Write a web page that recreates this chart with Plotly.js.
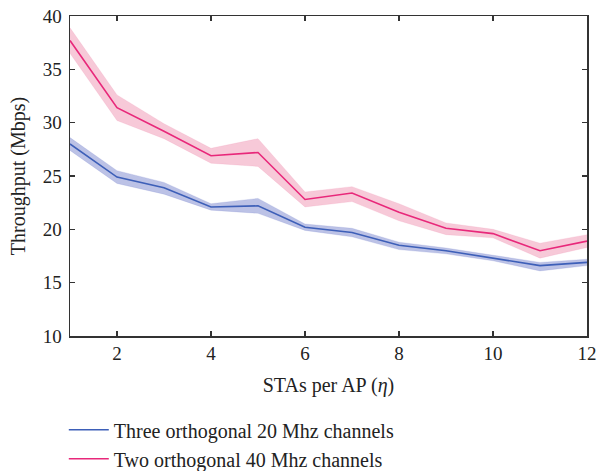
<!DOCTYPE html>
<html>
<head>
<meta charset="utf-8">
<script src="https://cdn.plot.ly/plotly-3.0.1.min.js"></script>
<style>html,body{margin:0;padding:0;background:#fff;}#chart{width:597px;height:471px;}</style>
</head>
<body>
<div id="chart"></div>
<script>
const stas = [1, 2, 3, 4, 5, 6, 7, 8, 9, 10, 11, 12];
const xTicks = [2, 4, 6, 8, 10, 12];
const yTicks = [10, 15, 20, 25, 30, 35, 40];

const blueName = "Three orthogonal 20 Mhz channels";
const blueMean  = [28.0, 24.9, 23.9, 22.1, 22.2, 20.2, 19.7, 18.5, 18.0, 17.3, 16.6, 16.9];
const blueUpper = [28.6, 25.5, 24.4, 22.4, 22.9, 20.5, 20.1, 18.8, 18.25, 17.55, 16.9, 17.2];
const blueLower = [27.4, 24.3, 23.3, 21.8, 21.5, 19.9, 19.3, 18.1, 17.7, 17.05, 16.1, 16.6];

const pinkName = "Two orthogonal 40 Mhz channels";
const pinkMean  = [37.7, 31.4, 29.2, 26.9, 27.2, 22.8, 23.4, 21.6, 20.1, 19.6, 18.0, 18.9];
const pinkUpper = [38.9, 32.6, 29.9, 27.6, 28.5, 23.5, 24.0, 22.4, 20.6, 20.0, 18.7, 19.5];
const pinkLower = [36.5, 30.2, 28.5, 26.2, 25.9, 22.1, 22.6, 20.8, 19.5, 19.2, 17.3, 18.3];

const blueLine = '#3d5fb8';
const blueBand = 'rgba(95,110,195,0.42)';
const pinkLine = '#e8287a';
const pinkBand = 'rgba(236,120,158,0.40)';
const font = 'Liberation Serif, Times New Roman, serif';

const traces = [
  {x: stas, y: blueUpper, mode: 'lines', line: {width: 0.5, color: 'rgba(95,110,195,0.3)'}, showlegend: false, hoverinfo: 'skip'},
  {x: stas, y: blueLower, mode: 'lines', line: {width: 0.5, color: 'rgba(95,110,195,0.3)'}, fill: 'tonexty', fillcolor: blueBand, showlegend: false, hoverinfo: 'skip'},
  {x: stas, y: pinkUpper, mode: 'lines', line: {width: 0.5, color: 'rgba(236,120,158,0.3)'}, showlegend: false, hoverinfo: 'skip'},
  {x: stas, y: pinkLower, mode: 'lines', line: {width: 0.5, color: 'rgba(236,120,158,0.3)'}, fill: 'tonexty', fillcolor: pinkBand, showlegend: false, hoverinfo: 'skip'},
  {x: stas, y: blueMean, mode: 'lines', name: blueName, line: {width: 1.6, color: blueLine}},
  {x: stas, y: pinkMean, mode: 'lines', name: pinkName, line: {width: 1.6, color: pinkLine}}
];

const axisCommon = {
  showline: true, linecolor: '#333', linewidth: 1.5, mirror: 'ticks',
  ticks: 'inside', ticklen: 5, tickwidth: 1.3, tickcolor: '#333',
  showgrid: false, zeroline: false, automargin: false,
  tickfont: {family: font, size: 19, color: '#222'}
};

const layout = {
  width: 597, height: 471,
  margin: {l: 70, r: 10, t: 16, b: 135, autoexpand: false},
  paper_bgcolor: '#fff', plot_bgcolor: '#fff',
  font: {family: font, color: '#222'},
  xaxis: Object.assign({}, axisCommon, {
    range: [1, 12], tickvals: xTicks, ticktext: xTicks.map(String),
    title: {text: 'STAs per AP (<i>η</i>)', font: {family: font, size: 20, color: '#222'}, standoff: 14}
  }),
  yaxis: Object.assign({}, axisCommon, {
    range: [10, 40], tickvals: yTicks, ticktext: yTicks.map(String),
    ticklabelstandoff: 3,
    title: {text: 'Throughput (Mbps)', font: {family: font, size: 20, color: '#222'}, standoff: 11}
  }),
  legend: {
    x: -0.012, y: -0.232, xanchor: 'left', yanchor: 'top',
    font: {family: font, size: 20, color: '#222'},
    bgcolor: 'rgba(0,0,0,0)', tracegroupgap: 0, itemwidth: 40, traceorder: 'normal'
  },
  showlegend: true
};

Plotly.newPlot('chart', traces, layout, {displayModeBar: false, staticPlot: true});
</script>
</body>
</html>
